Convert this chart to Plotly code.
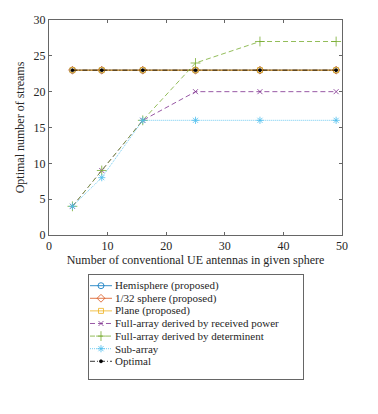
import plotly.graph_objects as go

# ── Data ─────────────────────────────────────────────────────────────────────
antennas = [4, 9, 16, 25, 36, 49]

hemisphere = [23, 23, 23, 23, 23, 23]
sphere_32 = [23, 23, 23, 23, 23, 23]
plane = [23, 23, 23, 23, 23, 23]
full_power = [4, 9, 16, 20, 20, 20]
full_det = [4, 9, 16, 24, 27, 27]
sub_array = [4, 8, 16, 16, 16, 16]
optimal = [23, 23, 23, 23, 23, 23]

names = [
    "Hemisphere (proposed)",
    "1/32 sphere (proposed)",
    "Plane (proposed)",
    "Full-array derived by received power",
    "Full-array derived by determinent",
    "Sub-array",
    "Optimal",
]

# ── Styles (matlab-ish defaults) ─────────────────────────────────────────────
FONT = "Liberation Serif"
AXIS_COLOR = "#666666"
TEXT_COLOR = "#262626"

styles = [
    dict(color="#0072BD", dash="solid", symbol="circle-open", size=6),
    dict(color="#D95319", dash="solid", symbol="diamond-open", size=6),
    dict(color="#EDB120", dash="solid", symbol="square-open", size=5),
    dict(color="#7E2F8E", dash="5px,3px", symbol="x-thin-open", size=5),
    dict(color="#77AC30", dash="5px,3px", symbol="cross-thin-open", size=7),
    dict(color="#4DBEEE", dash="1px,1px", symbol="asterisk-open", size=6),
    dict(color="#000000", dash="5px,2px,1px,2px", symbol="circle", size=3),
]

series = [hemisphere, sphere_32, plane, full_power, full_det, sub_array, optimal]

fig = go.Figure()

for name, ys, st in zip(names, series, styles):
    fig.add_trace(go.Scatter(
        x=antennas, y=ys,
        mode="lines+markers",
        name=name,
        line=dict(color=st["color"], width=0.8, dash=st["dash"]),
        marker=dict(symbol=st["symbol"], size=st["size"], color=st["color"],
                    line=dict(width=0.8, color=st["color"])),
        showlegend=False,
        xaxis="x", yaxis="y",
    ))

# ── Hand-drawn legend box (matlab look) on a helper axis ─────────────────────
ROW0, ROW_STEP = 10.7, 12.6
for i, (name, st) in enumerate(zip(names, styles)):
    yy = ROW0 + ROW_STEP * i
    fig.add_trace(go.Scatter(
        x=[1, 23], y=[yy, yy], mode="lines",
        line=dict(color=st["color"], width=0.8, dash=st["dash"]),
        showlegend=False, hoverinfo="skip",
        xaxis="x2", yaxis="y2",
    ))
    fig.add_trace(go.Scatter(
        x=[12], y=[yy], mode="markers",
        marker=dict(symbol=st["symbol"], size=st["size"], color=st["color"],
                    line=dict(width=0.8, color=st["color"])),
        showlegend=False, hoverinfo="skip",
        xaxis="x2", yaxis="y2",
    ))
    fig.add_annotation(
        x=25, y=yy, xref="x2", yref="y2", text=name, showarrow=False,
        xanchor="left", yanchor="middle", borderpad=0,
        font=dict(family=FONT, size=11, color=TEXT_COLOR),
    )

axis_common = dict(
    showline=True, mirror="ticks", linecolor=AXIS_COLOR, linewidth=1,
    ticks="inside", ticklen=3, tickcolor=AXIS_COLOR, showgrid=False,
    zeroline=False, tickfont=dict(family=FONT, size=12, color=TEXT_COLOR),
)

fig.update_layout(
    width=378, height=414,
    margin=dict(l=41, r=44, t=12, b=0),
    paper_bgcolor="white", plot_bgcolor="white",
    font=dict(family=FONT, size=12, color=TEXT_COLOR),
    xaxis=dict(
        range=[0, 50], dtick=10, domain=[0, 1], anchor="y",
        title=dict(text="Number of conventional UE antennas in given sphere",
                   font=dict(family=FONT, size=12, color=TEXT_COLOR), standoff=2),
        automargin=False, **axis_common,
    ),
    yaxis=dict(
        range=[0, 30], dtick=5, domain=[0.4652, 1], anchor="x",
        title=dict(text="Optimal number of streams",
                   font=dict(family=FONT, size=12, color=TEXT_COLOR), standoff=6),
        automargin=False, **axis_common,
    ),
    xaxis2=dict(
        range=[0, 214], domain=[0.1365, 0.8669], anchor="y2",
        showline=True, mirror=True, linecolor=AXIS_COLOR, linewidth=1,
        showticklabels=False, ticks="", showgrid=False, zeroline=False,
        fixedrange=True,
    ),
    yaxis2=dict(
        range=[104, 0], domain=[0.107, 0.3657], anchor="x2",
        showline=True, mirror=True, linecolor=AXIS_COLOR, linewidth=1,
        showticklabels=False, ticks="", showgrid=False, zeroline=False,
        fixedrange=True,
    ),
    showlegend=False,
)

fig.write_html("out.html")
